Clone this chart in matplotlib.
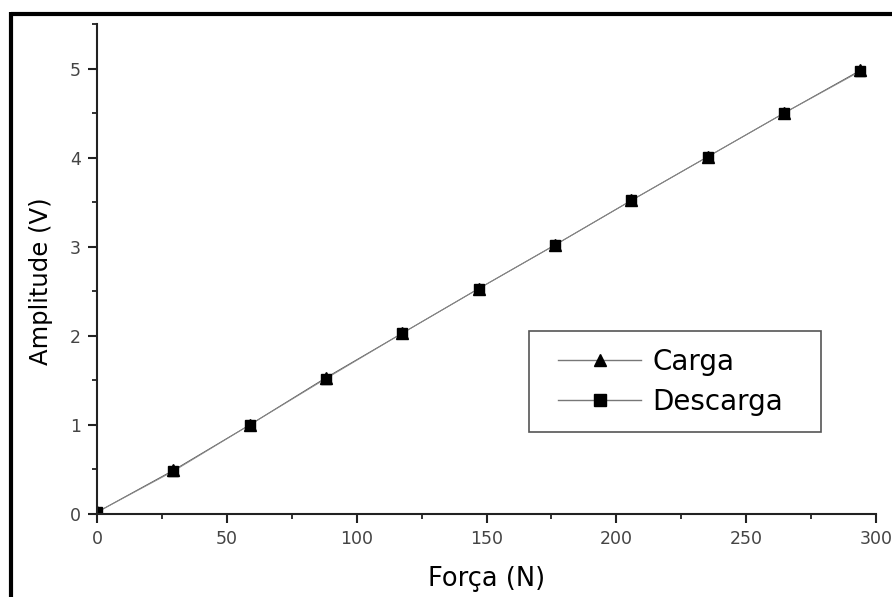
import numpy as np
import matplotlib
matplotlib.use('Agg')
import matplotlib.pyplot as plt
from matplotlib.lines import Line2D
from matplotlib.patches import Rectangle
from matplotlib.ticker import MultipleLocator

forca = [0, 29.4, 58.8, 88.2, 117.6, 147.0, 176.4, 205.8, 235.2, 264.6, 294.0]
carga = [0.02, 0.49, 1.00, 1.53, 2.03, 2.53, 3.02, 3.52, 4.01, 4.50, 4.98]
descarga = [0.02, 0.48, 1.00, 1.52, 2.03, 2.53, 3.02, 3.52, 4.01, 4.50, 4.97]

plt.rcParams['font.family'] = ['DejaVu Sans']

W, H = 892, 597
fig = plt.figure(figsize=(W / 100, H / 100), dpi=100)
ax = fig.add_axes([97 / W, 1 - 514 / H, 779 / W, 490 / H])

ax.plot(forca, carga, color='#555555', lw=0.7, marker='^', ms=8,
        mfc='black', mec='black', label='Carga')
ax.plot(forca, descarga, color='#888888', lw=0.7, marker='s', ms=7.5,
        mfc='black', mec='black', label='Descarga')

ax.set_xlim(0, 300)
ax.set_ylim(0, 5.5)
ax.xaxis.set_major_locator(MultipleLocator(50))
ax.xaxis.set_minor_locator(MultipleLocator(25))
ax.yaxis.set_major_locator(MultipleLocator(1))
ax.yaxis.set_minor_locator(MultipleLocator(0.5))

for s in ['top', 'right']:
    ax.spines[s].set_visible(False)
for s in ['left', 'bottom']:
    ax.spines[s].set_linewidth(1.5)
    ax.spines[s].set_color('#222222')

ax.tick_params(which='major', direction='out', length=6.5, width=1.5, color='#222222',
               labelsize=12.5, labelcolor='#444444', pad=5)
ax.tick_params(which='minor', direction='out', length=3.5, width=1.3, color='#222222')

ax.set_xlabel('Força (N)', fontsize=18.5, va='center')
ax.xaxis.set_label_coords(0.5, (514 - 579) / 490)
ax.set_ylabel('Amplitude (V)', fontsize=17.5, va='center')
ax.yaxis.set_label_coords((41 - 97) / 779, (514 - 281) / 490)

leg = ax.legend(loc='upper left', bbox_to_anchor=(558 / W, 1 - 348 / H), bbox_transform=fig.transFigure,
                borderaxespad=0, borderpad=0, fontsize=20, frameon=False,
                handlelength=3.0, handletextpad=0.4, labelspacing=0.44)
for h in leg.legend_handles:
    h.set_color('#777777')
    h.set_linewidth(1.0)
    h.set_markerfacecolor('black')
    h.set_markeredgecolor('black')
    h.set_markersize(9)

fig.add_artist(Rectangle((529 / W, 1 - 432 / H), 292 / W, 101 / H, transform=fig.transFigure,
                         fill=False, edgecolor='#555555', lw=1.2))

# border from the cropped original
fig.add_artist(Line2D([11 / W, 1], [1 - 14 / H, 1 - 14 / H], color='black', lw=3,
                      transform=fig.transFigure, solid_capstyle='butt'))
fig.add_artist(Line2D([11 / W, 11 / W], [0, 1 - 12 / H], color='black', lw=3,
                      transform=fig.transFigure, solid_capstyle='butt'))

fig.savefig('out.png', dpi=100)
